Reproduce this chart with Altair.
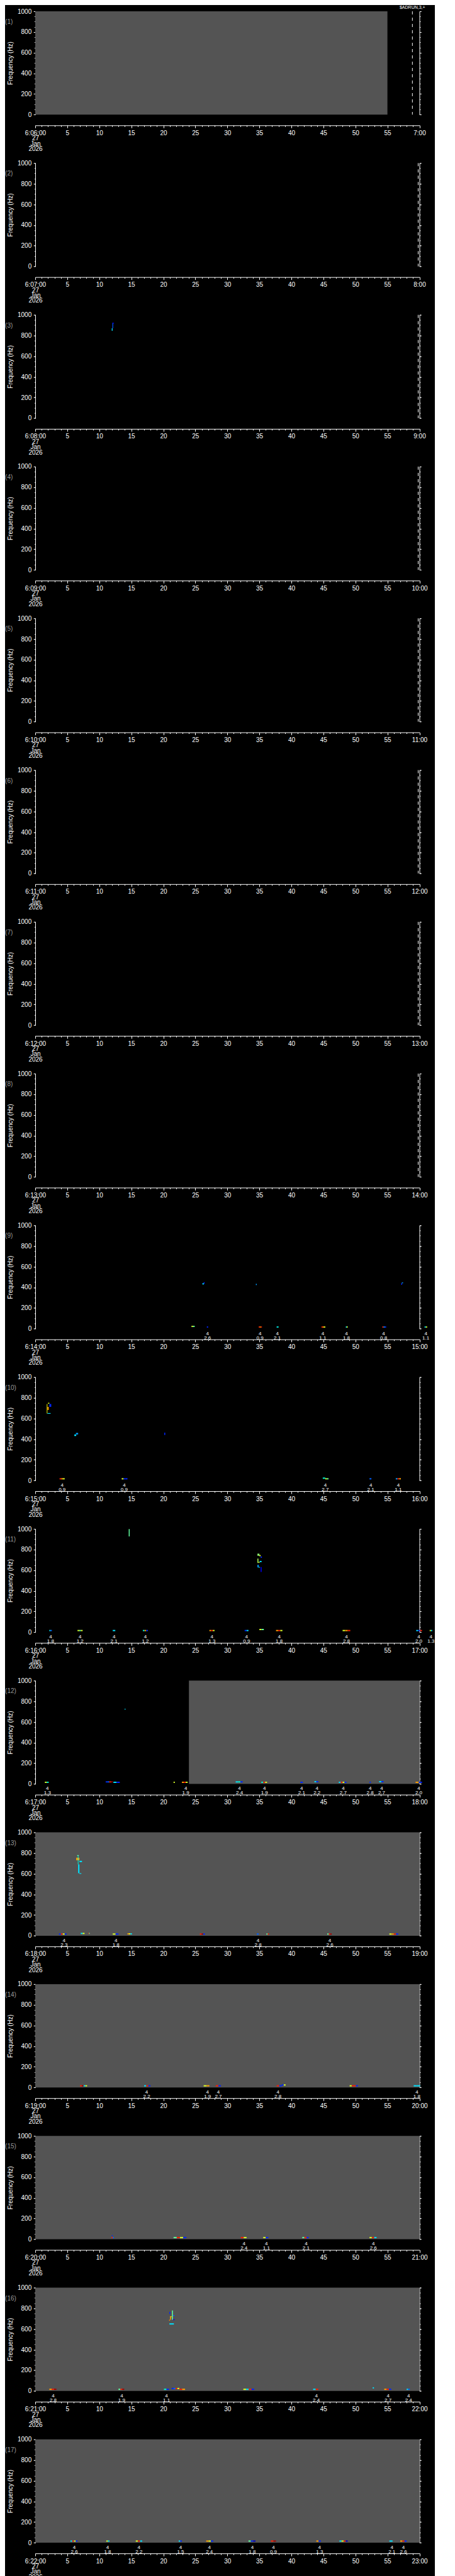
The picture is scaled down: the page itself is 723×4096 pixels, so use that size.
import json
import altair as alt
import pandas as pd

S = 0.705
W = round(866 * S, 1)
H = round(233 * S, 1)
PITCH = 341.3 * S
FONT = "Liberation Sans"
GRAY = "#545454"
JET = ["#00008f", "#0000ff", "#0060ff", "#00dfff", "#60ff9f",
       "#dfff20", "#ffa000", "#ff2000", "#8f0000"]
JET_DOMAIN = [i / 8 for i in range(9)]

start_labels = ["6:06:00", "6:07:00", "6:08:00", "6:09:00", "6:10:00", "6:11:00",
                "6:12:00", "6:13:00", "6:14:00", "6:15:00", "6:16:00", "6:17:00",
                "6:18:00", "6:19:00", "6:20:00", "6:21:00", "6:22:00"]
end_labels = ["7:00", "8:00", "9:00", "10:00", "11:00", "12:00", "13:00", "14:00",
              "15:00", "16:00", "17:00", "18:00", "19:00", "20:00", "21:00",
              "22:00", "23:00"]
date_lines = ["27", "Jan", "2026"]
panel_names = ["(%d)" % k for k in range(1, 18)]
y_major = [0, 200, 400, 600, 800, 1000]
y_minor = list(range(0, 1001, 50))
x_major = list(range(0, 61, 5))
x_minor = list(range(0, 61))

# ---- per-panel data: minutes / Hz / colour level (0..1 jet) ----
# gray (no-data) regions: (t0, t1, f0, f1)
p1_gray = [(0, 55, 0, 1000)]
p12_gray = [(24.0, 60, 0, 1000)]
full_gray = [(0, 60, 0, 1000)]

# event markers
p1_events = [58.9]
p1_event_text = ["$ADRUN,3,+"]
p2_8_events = [59.8]

# spectral blobs: (t0, t1, f0, f1, level)
p3_cells = [(12.05, 12.17, 870, 923, 0.22), (12.05, 12.3, 915, 923, 0.1),
            (11.95, 12.08, 845, 870, 0.38)]
p9_cells = [(26.1, 26.35, 428, 440, 0.38), (26.3, 26.45, 435, 450, 0.15),
            (34.45, 34.6, 422, 434, 0.3), (57.15, 57.3, 425, 440, 0.15),
            (57.25, 57.45, 440, 448, 0.3)]
p10_cells = [(1.8, 1.9, 648, 740, 0.65), (1.9, 2.1, 682, 712, 0.75),
             (2.0, 2.2, 742, 752, 0.62), (2.2, 2.5, 712, 740, 0.15),
             (1.9, 2.4, 645, 652, 0.38), (6.1, 6.4, 430, 445, 0.38),
             (6.35, 6.7, 445, 460, 0.3), (20.15, 20.3, 440, 462, 0.15)]
p11_cells = [(14.6, 14.75, 927, 998, 0.5), (34.7, 35.0, 740, 760, 0.55),
             (35.0, 35.2, 735, 748, 0.62), (35.2, 35.4, 720, 733, 0.15),
             (34.7, 34.85, 670, 712, 0.58), (34.85, 35.05, 672, 680, 0.62),
             (35.05, 35.35, 678, 690, 0.38), (34.7, 34.9, 627, 652, 0.3),
             (34.9, 35.1, 625, 632, 0.38), (35.2, 35.35, 583, 630, 0.12)]
p12_cells = [(13.95, 14.1, 720, 728, 0.38)]
p13_cells = [(6.55, 6.8, 772, 780, 0.5), (6.4, 6.9, 730, 755, 0.75),
             (6.9, 7.3, 712, 725, 0.38), (6.65, 6.75, 690, 772, 0.45),
             (6.7, 6.9, 605, 690, 0.38), (6.9, 7.2, 598, 605, 0.38)]
p15_cells = [(11.95, 12.1, 30, 40, 0.15)]
p16_cells = [(21.35, 21.5, 690, 780, 0.5), (20.95, 21.1, 745, 765, 0.15),
             (21.55, 21.75, 725, 735, 0.25), (21.55, 21.75, 685, 695, 0.12),
             (20.9, 21.05, 680, 690, 0.78), (21.05, 21.2, 690, 720, 0.75),
             (21.05, 21.35, 715, 722, 0.7), (20.95, 21.65, 643, 655, 0.38)]

# near-zero dashes: (t0, t1, [levels], base Hz)
p9_dashes = [(24.4, 24.9, [0.62, 0.5], 16), (26.8, 27.0, [0.15], 10),
             (34.9, 35.4, [0.88, 0.75, 0.88], 10), (37.7, 38.0, [0.38, 0.45], 10),
             (44.7, 45.3, [0.88, 0.75, 0.62], 10), (48.5, 48.8, [0.38, 0.62], 10),
             (54.2, 54.8, [0.88, 0.3, 0.15], 10), (60.8, 61.2, [0.38, 0.62], 10)]
p10_dashes = [(3.8, 4.6, [0.88, 0.75, 0.62], 10), (13.5, 14.4, [0.62, 0.15, 0.15], 10),
              (44.9, 45.3, [0.45], 16), (45.3, 45.8, [0.62, 0.5], 10),
              (52.2, 52.5, [0.25], 10), (56.3, 57.1, [0.3, 0.88, 0.75], 10)]
p11_dashes = [(2.2, 2.6, [0.38, 0.25], 10), (6.6, 7.4, [0.62, 0.5, 0.62], 10),
              (12.1, 12.5, [0.38], 10), (16.8, 17.6, [0.45, 0.75, 0.15], 10),
              (27.2, 28.0, [0.75, 0.88, 0.62], 10), (32.7, 33.3, [0.15, 0.38], 10),
              (35.0, 35.7, [0.62, 0.5], 20), (37.6, 38.6, [0.75, 0.88, 0.62], 10),
              (48.0, 49.2, [0.62, 0.75, 0.88], 10), (59.5, 60.4, [0.38, 0.15, 0.88], 10),
              (61.6, 62.0, [0.62, 0.38], 10)]
p12_dashes = [(1.5, 2.1, [0.62, 0.45], 10), (11.0, 12.1, [0.15, 0.25, 0.88, 0.98], 14),
              (12.2, 13.2, [0.38, 0.15], 10), (21.6, 21.8, [0.62], 10),
              (22.9, 23.8, [0.75, 0.88, 0.62], 10), (31.3, 32.4, [0.38, 0.45, 0.15], 14),
              (35.3, 36.2, [0.45, 0.88, 0.62], 10), (41.4, 41.8, [0.15], 10),
              (43.6, 44.2, [0.38, 0.15], 16), (47.4, 48.6, [0.38, 0.88, 0.62, 0.15], 10),
              (52.2, 52.4, [0.15], 10), (53.7, 54.4, [0.38, 0.15], 16),
              (59.4, 60.4, [0.75, 0.15], 10)]
p13_dashes = [(3.7, 4.9, [0.15, 0.88, 0.62, 0.15], 10), (7.1, 7.7, [0.38, 0.62], 16),
              (8.3, 8.5, [0.88, 0.5], 16), (12.1, 13.0, [0.62, 0.15], 10),
              (14.4, 15.1, [0.75, 0.62, 0.38], 12), (25.7, 26.5, [0.88, 0.98, 0.15], 10),
              (34.6, 34.9, [0.25], 10), (36.1, 36.5, [0.5, 0.88], 10),
              (45.6, 46.3, [0.5, 0.88, 0.98], 10), (55.3, 56.7, [0.62, 0.75, 0.88, 0.15], 10)]
p14_dashes = [(7.0, 8.1, [0.88, 0.98, 0.38, 0.62], 10), (17.0, 18.0, [0.38, 0.88, 0.15], 10),
              (26.3, 27.2, [0.62, 0.75], 10), (28.2, 29.0, [0.88, 0.15], 10),
              (37.7, 38.5, [0.88, 0.15], 10), (38.5, 39.1, [0.15, 0.62], 18),
              (49.1, 50.4, [0.62, 0.88, 0.88, 0.15], 10), (59.1, 60.1, [0.38, 0.38], 10)]
p15_dashes = [(11.9, 12.3, [0.88, 0.25], 10), (21.6, 23.6, [0.5, 0.88, 0.62, 0.15], 10),
              (32.1, 33.0, [0.88, 0.62], 10), (35.6, 36.4, [0.62, 0.15], 10),
              (41.7, 42.7, [0.5, 0.88, 0.15], 10), (52.2, 53.3, [0.62, 0.88, 0.38], 10)]
p16_dashes = [(2.2, 3.3, [0.75, 0.88, 0.98], 10), (13.0, 13.9, [0.5, 0.88, 0.98], 10),
              (20.1, 20.9, [0.45, 0.15], 10), (21.3, 22.5, [0.15, 0.25, 0.88, 0.62], 18),
              (22.5, 23.4, [0.88, 0.75], 10), (32.5, 34.2, [0.62, 0.38, 0.88, 0.15], 10),
              (43.4, 44.2, [0.38, 0.88], 10), (52.7, 52.9, [0.38], 24),
              (54.5, 55.6, [0.75, 0.88, 0.15], 10), (58.0, 58.5, [0.38, 0.25], 10)]
p17_dashes = [(5.5, 6.6, [0.38, 0.88, 0.62, 0.15], 10), (11.1, 11.6, [0.62, 0.38], 10),
              (15.7, 16.7, [0.62, 0.88, 0.38], 10), (22.4, 22.9, [0.38, 0.15], 10),
              (26.7, 27.8, [0.75, 0.62, 0.15], 10), (33.3, 34.4, [0.5, 0.15, 0.05], 10),
              (36.8, 37.6, [0.88, 0.98], 10), (43.9, 44.6, [0.75, 0.15], 10),
              (47.5, 48.8, [0.38, 0.62, 0.88, 0.05], 10), (55.3, 55.8, [0.38], 10),
              (57.0, 58.0, [0.75, 0.88, 0.15], 10)]

# dash annotations (time, value)
p9_lab_t = [26.9, 35.1, 37.8, 44.9, 48.6, 54.4, 61.0]
p9_lab_v = ["2.6", "0.9", "2.1", "1.1", "1.8", "0.8", "1.1"]
p10_lab_t = [4.2, 13.9, 45.3, 52.4, 56.7]
p10_lab_v = ["0.9", "0.9", "2.7", "2.1", "1.1"]
p11_lab_t = [2.4, 7.0, 12.3, 17.2, 27.6, 33.0, 38.1, 48.6, 59.9, 61.8]
p11_lab_v = ["1.8", "1.2", "2.1", "1.2", "1.3", "0.9", "1.8", "2.8", "2.0", "1.3"]
p12_lab_t = [1.9, 23.5, 31.9, 35.8, 41.6, 44.0, 48.1, 52.3, 54.1, 59.9]
p12_lab_v = ["1.3", "1.9", "2.4", "1.9", "2.1", "2.2", "2.7", "2.8", "2.7", "2.0"]
p13_lab_t = [4.5, 12.6, 34.8, 46.0]
p13_lab_v = ["2.3", "1.8", "2.8", "2.6"]
p14_lab_t = [17.4, 26.9, 28.6, 37.9, 59.6]
p14_lab_v = ["2.2", "1.9", "2.7", "2.8", "1.8"]
p15_lab_t = [32.6, 36.1, 42.3, 52.8]
p15_lab_v = ["2.4", "1.1", "2.1", "2.6"]
p16_lab_t = [2.8, 13.5, 20.5, 43.9, 55.1, 58.3]
p16_lab_v = ["2.8", "1.9", "1.1", "2.4", "2.7", "2.4"]
p17_lab_t = [6.1, 11.3, 16.2, 22.7, 27.2, 33.9, 37.2, 44.4, 55.7, 57.5]
p17_lab_v = ["2.6", "1.8", "2.2", "1.5", "2.4", "1.8", "0.9", "1.3", "2.1", "2.6"]
dash_count = "4"

panels_spec = [
    (p1_gray, [], [], [], [], p1_events, p1_event_text),
    ([], [], [], [], [], p2_8_events, []),
    ([], p3_cells, [], [], [], p2_8_events, []),
    ([], [], [], [], [], p2_8_events, []),
    ([], [], [], [], [], p2_8_events, []),
    ([], [], [], [], [], p2_8_events, []),
    ([], [], [], [], [], p2_8_events, []),
    ([], [], [], [], [], p2_8_events, []),
    ([], p9_cells, p9_dashes, p9_lab_t, p9_lab_v, [], []),
    ([], p10_cells, p10_dashes, p10_lab_t, p10_lab_v, [], []),
    ([], p11_cells, p11_dashes, p11_lab_t, p11_lab_v, [], []),
    (p12_gray, p12_cells, p12_dashes, p12_lab_t, p12_lab_v, [], []),
    (full_gray, p13_cells, p13_dashes, p13_lab_t, p13_lab_v, [], []),
    (full_gray, [], p14_dashes, p14_lab_t, p14_lab_v, [], []),
    (full_gray, p15_cells, p15_dashes, p15_lab_t, p15_lab_v, [], []),
    (full_gray, p16_cells, p16_dashes, p16_lab_t, p16_lab_v, [], []),
    (full_gray, [], p17_dashes, p17_lab_t, p17_lab_v, [], []),
]

DASH_HZ = 12


def dash_cells(dashes):
    rows = []
    for t0, t1, levels, fb in dashes:
        w = (t1 - t0) / len(levels)
        for i, lv in enumerate(levels):
            rows.append((t0 + i * w, t0 + (i + 1) * w, fb, fb + DASH_HZ, lv))
    return rows


def build_panel(k, gray, cells, dashes, lab_t, lab_v, ev_t, ev_txt):
    xsc = alt.Scale(domain=[0, 60], nice=False, zero=False)
    ysc = alt.Scale(domain=[0, 1000], nice=False, zero=False)
    layers = []
    if gray:
        gdf = pd.DataFrame(gray, columns=["t0", "t1", "f0", "f1"])
        layers.append(alt.Chart(gdf).mark_rect(color=GRAY).encode(
            x=alt.X("t0:Q", scale=xsc, axis=None), x2="t1:Q",
            y=alt.Y("f0:Q", scale=ysc, axis=None), y2="f1:Q"))
    allcells = list(cells) + dash_cells(dashes)
    if allcells:
        cdf = pd.DataFrame(allcells, columns=["t0", "t1", "f0", "f1", "lv"])
        layers.append(alt.Chart(cdf).mark_rect().encode(
            x=alt.X("t0:Q", scale=xsc, axis=None), x2="t1:Q",
            y=alt.Y("f0:Q", scale=ysc, axis=None), y2="f1:Q",
            color=alt.Color("lv:Q", scale=alt.Scale(domain=JET_DOMAIN, range=JET),
                            legend=None)))
    if ev_t:
        edf = pd.DataFrame({"t": ev_t})
        layers.append(alt.Chart(edf).mark_rule(
            color="white", strokeDash=[5, 5], strokeWidth=1).encode(
            x=alt.X("t:Q", scale=xsc, axis=None)))
    if ev_txt:
        tdf = pd.DataFrame({"t": ev_t[:len(ev_txt)], "txt": ev_txt})
        layers.append(alt.Chart(tdf).mark_text(
            color="white", font=FONT, fontSize=7, align="center",
            baseline="middle").encode(
            x=alt.X("t:Q", scale=xsc, axis=None), y=alt.value(-6), text="txt:N"))
    if lab_t:
        ldf = pd.DataFrame({"t": lab_t, "txt": [dash_count + "\n" + v for v in lab_v]})
        layers.append(alt.Chart(ldf).mark_text(
            color="white", font=FONT, fontSize=8, align="center", baseline="middle",
            lineBreak="\n", lineHeight=7.1).encode(
            x=alt.X("t:Q", scale=xsc, axis=None), y=alt.value(H + 7.8), text="txt:N"))
    ndf = pd.DataFrame({"txt": [panel_names[k]]})
    layers.append(alt.Chart(ndf).mark_text(
        color="#9a9a9a", font=FONT, fontSize=10, align="left", baseline="middle").encode(
        x=alt.value(-47.9), y=alt.value(17), text="txt:N"))

    first = json.dumps([start_labels[k]] + date_lines)
    lab_expr = ("datum.value == 0 ? %s : datum.value == 60 ? '%s' : datum.label"
                % (first, end_labels[k]))
    common = dict(grid=False, tickColor="white", domainColor="white",
                  labelColor="white", labelFont=FONT, tickWidth=1, domainWidth=1)
    ax_df = pd.DataFrame({"t": [0.0], "f": [0.0]})

    def carrier(xaxis, yaxis):
        return alt.Chart(ax_df).mark_point(opacity=0).encode(
            x=alt.X("t:Q", scale=xsc, axis=xaxis),
            y=alt.Y("f:Q", scale=ysc, axis=yaxis))

    x_maj = alt.Axis(orient="bottom", offset=17, values=x_major, tickSize=4,
                     labelFontSize=10, labelPadding=3, labelLineHeight=8.4,
                     labelOverlap=False, labelFlush=False, labelBaseline="top",
                     labelExpr=lab_expr, title=None, **common)
    x_min = alt.Axis(orient="bottom", offset=17, values=x_minor, tickSize=2,
                     labels=False, domain=False, title=None, **common)
    y_maj_l = alt.Axis(orient="left", values=y_major, tickSize=2.8, labelPadding=3.5,
                       labelFontSize=10, format="d", title="Frequency  (Hz)",
                       titleColor="white", titleFont=FONT, titleFontSize=10,
                       titleFontWeight="normal", titleAngle=270, titleX=-40,
                       titleY=H / 2, titleAlign="center", titleBaseline="middle",
                       **common)
    y_min_l = alt.Axis(orient="left", values=y_minor, tickSize=1.5, labels=False,
                       domain=False, title=None, **common)
    y_maj_r = alt.Axis(orient="right", values=y_major, tickSize=2.8, labels=False,
                       title=None, **common)
    y_min_r = alt.Axis(orient="right", values=y_minor, tickSize=1.5, labels=False,
                       domain=False, title=None, **common)
    layers.append(carrier(x_maj, y_maj_l))
    layers.append(carrier(x_min, y_min_l))
    layers.append(carrier(None, y_maj_r))
    layers.append(carrier(None, y_min_r))

    return alt.layer(*layers).resolve_axis(x="independent", y="independent").properties(
        width=W, height=H)


panels = [build_panel(k, *spec) for k, spec in enumerate(panels_spec)]

chart = alt.vconcat(*panels, spacing=round(PITCH - H, 1), bounds="flush").properties(
    padding=0, background="black").configure_view(stroke=None)

chart.save("out.html", embed_options={"renderer": "svg", "actions": False})
